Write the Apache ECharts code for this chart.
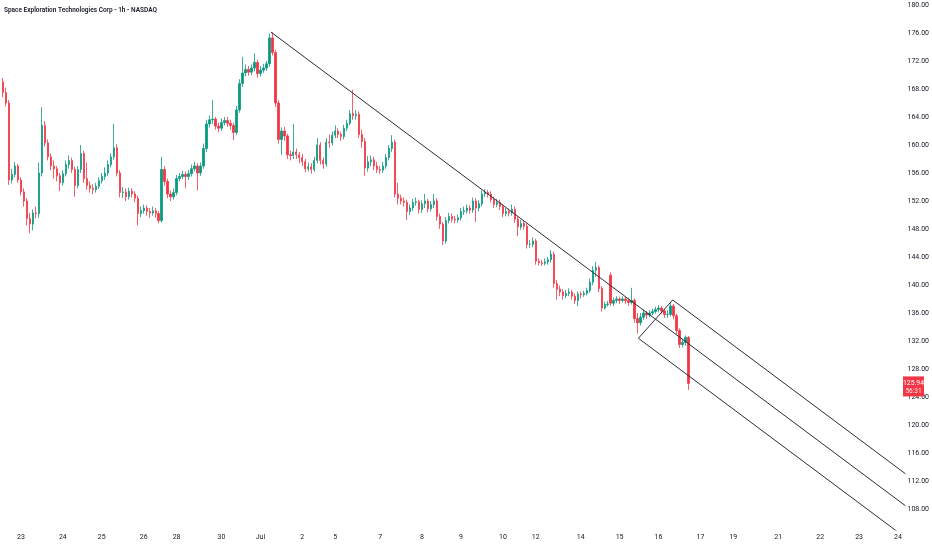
<!DOCTYPE html>
<html><head><meta charset="utf-8">
<script src="https://cdn.jsdelivr.net/npm/echarts@6/dist/echarts.min.js"></script>
<style>html,body{margin:0;padding:0;background:#fff}#c{width:932px;height:550px}</style>
</head><body><div id="c"></div>
<script>
const chartTitle = 'Space Exploration Technologies Corp - 1h - NASDAQ';
// [open, close, low, high] per 1h bar
const candles = [
[169,167.5,166.8,169.6],[167.5,166,165.5,168.2],[166,155,154.3,166.4],[155,155.8,154.5,156.6],[155.8,157,155.4,157.6],
[157,155,154.6,157.3],[155,153.3,152.8,155.4],[153.3,152,151.2,153.8],[152,149.5,148.5,152.4],[149.5,148.7,147.4,150.3],
[148.7,150.3,147.8,150.8],[150.3,150.2,149.5,151.2],[150.2,156,149.6,157.5],[156,162.8,155.5,165.4],[162.8,160.3,159.8,163.4],
[160.3,158.3,157.8,160.8],[158.3,157,156.4,158.8],[157,156.6,155.2,157.8],[156.6,155.6,154.8,157],[155.6,154.6,153.4,156],
[154.6,155.9,154.2,156.4],[155.9,157.2,155.5,157.8],[157.2,157.8,156.6,158.5],[157.8,156.5,156,158.2],[156.5,154.2,152.6,156.9],
[154.2,156.5,153.8,157],[156.5,158.8,156,160],[158.8,155.2,154.6,159.2],[155.2,154.2,153.6,157.5],[154.2,153.8,153.2,154.8],
[153.8,153.6,153,154.4],[153.6,154.1,153.2,154.6],[154.1,154.9,153.7,155.4],[154.9,155.5,154.5,156],[155.5,156,155,156.8],
[156,157.2,155.6,157.8],[157.2,158.3,156.8,158.8],[158.3,159.6,157.9,163],[159.6,156,155.5,160.1],[156,153.2,152.5,156.4],
[153.2,153.3,152.4,154],[153.3,152.6,152,153.8],[152.6,153.4,152.2,153.9],[153.4,153,152.5,153.8],[153,152.4,151.8,153.4],
[152.4,150.2,148.5,152.8],[150.2,150.6,149.7,151.2],[150.6,151,150.2,151.5],[151,150.5,149.9,151.4],[150.5,150.3,149.6,151],
[150.3,150.6,149.9,151.2],[150.6,150.2,149.6,151],[150.2,149.2,148.8,150.6],[149.2,156.5,148.9,158.3],[156.5,154.8,154.2,157],
[154.8,153,152.4,155.2],[153,152.6,152,153.5],[152.6,153.2,152.2,153.8],[153.2,155.2,152.8,155.7],[155.2,155.5,154.8,156],
[155.5,155.8,155.1,156.3],[155.8,155.5,153.8,156.2],[155.5,155.9,155,156.4],[155.9,156.6,155.5,157.2],[156.6,157,156.2,157.6],
[157,156,153.5,157.4],[156,157,155.6,157.5],[157,159.5,156.6,160.2],[159.5,163,159,163.6],[163,163.6,162.5,164.2],
[163.6,163.7,163,166.4],[163.7,162.7,162.2,164],[162.7,162.4,161.8,163.2],[162.4,163.2,162,163.8],[163.2,163.5,162.8,164],
[163.5,163.1,162.6,164],[163.1,162.8,162.2,163.6],[162.8,161.8,160.7,163.2],[161.8,165,161.4,165.6],[165,168.8,164.6,169.4],
[168.8,170.3,168.3,172.6],[170.3,170.8,169.8,171.5],[170.8,170.4,169.9,171.3],[170.4,171,170,171.5],[171,171.8,170.5,173.1],
[171.8,170.2,169.6,172.2],[170.2,170.7,169.8,171.3],[170.7,171,170.3,171.6],[171,171.6,170.6,172],[171.6,175.3,171.2,175.9],
[175.3,173.2,172.8,176.1],[173.2,166,165.4,173.6],[166,160.8,160.2,166.4],[160.8,162,158.6,162.5],[162,161.3,160.6,162.6],
[161.3,158.6,158,161.6],[158.6,158.5,157.8,159.2],[158.5,159,158,163],[159,158.6,158,159.5],[158.6,158.2,157.4,159],
[158.2,157.6,157,158.7],[157.6,156.6,156.1,158],[156.6,156.9,156.2,157.5],[156.9,156.5,155.9,157.4],[156.5,157.8,156.2,158.3],
[157.8,160,157.4,161],[160,157.8,157.2,160.4],[157.8,157.3,156.6,158.2],[157.3,160.4,156.9,161],[160.4,160.3,159.6,161.5],
[160.3,161.4,159.9,161.9],[161.4,162,161,162.8],[162,161.5,161,162.4],[161.5,161.2,160.6,161.9],[161.2,162.4,160.8,162.9],
[162.4,163.1,162,163.6],[163.1,164.5,162.8,165],[164.5,164.2,163.6,167.9],[164.2,164.4,163.6,165],[164.4,161.5,161,164.8],
[161.5,160.5,159.6,162.2],[160.5,156.7,155.6,161],[156.7,157.6,156.2,158.4],[157.6,157.9,157,158.5],[157.9,157,156.4,158.3],
[157,156.5,156,157.6],[156.5,156.4,155.9,157],[156.4,157,156,157.6],[157,158.2,156.6,158.7],[158.2,159.5,157.8,160],
[159.5,160.4,159,161.4],[160.4,153,152.5,160.8],[153,152.4,151.5,154.6],[152.4,152,151.5,152.9],[152,151.8,151.2,152.5],
[151.8,150.5,149.3,152.2],[150.5,151,150,151.5],[151,151.8,150.6,152.3],[151.8,151.9,151.3,152.5],[151.9,150.8,150.2,152.2],
[150.8,151.6,150.3,152.1],[151.6,152,151,153],[152,150.9,150.4,152.3],[150.9,151.5,150.5,152],[151.5,152,151,153],
[152,149.8,149.2,152.4],[149.8,148.7,148,150.2],[148.7,146.3,145.7,149],[146.3,149.2,145.9,149.7],[149.2,149.8,148.8,150.3],
[149.8,149.4,148.9,150.2],[149.4,149.3,148.8,149.9],[149.3,149.6,148.9,150.1],[149.6,150.5,149.2,151],[150.5,150.6,150,151.2],
[150.6,151,150.2,151.5],[151,150.7,150.2,151.4],[150.7,152,150.3,152.5],[152,151,149,152.4],[151,151.6,150.5,152.1],
[151.6,153,151.2,153.5],[153,153.2,152.6,153.7],[153.2,153,152.5,153.6],[153,152.2,151.8,153.4],[152.2,151.5,151,152.6],
[151.5,151.8,151.1,152.3],[151.8,151.2,150.7,152.2],[151.2,150.2,149.7,151.6],[150.2,150.5,149.8,151],[150.5,150.3,149.8,150.9],
[150.3,150.8,149.9,151.5],[150.8,149.4,148.9,151.2],[149.4,148.3,147,149.8],[148.3,148.8,147.9,149.3],[148.8,148.4,147.9,149.2],
[148.4,145.8,145.2,148.8],[145.8,145.8,145.3,146.4],[145.8,146.3,145.4,146.8],[146.3,143.4,142.9,146.6],[143.4,143.2,142.8,143.8],
[143.2,143.1,142.7,143.6],[143.1,143.3,142.8,143.8],[143.3,143.6,142.9,144],[143.6,144.4,143.2,145],[144.4,140.2,139.6,144.8],
[140.2,139.4,137.9,140.7],[139.4,139,138.4,139.9],[139,138.5,137.9,139.4],[138.5,138.8,138.1,139.3],[138.8,139,138.4,139.5],
[139,138.4,137.9,139.3],[138.4,137.8,137.3,138.8],[137.8,138.7,137,139.1],[138.7,138.6,138.1,139.1],[138.6,138.8,138.3,139.2],
[138.8,139.2,138.5,139.6],[139.2,140.4,138.9,140.9],[140.4,142.1,140,142.7],[142.1,142.5,141.2,143.3],[142.5,139.5,139,142.8],
[139.5,136.7,136.2,139.8],[136.7,137.2,136.5,137.6],[137.2,137.3,136.9,137.7],[141.4,137.4,137,141.8],[137.4,137.8,137,138.2],
[137.8,138,137.4,138.4],[138,137.8,137.3,138.3],[137.8,138,137.5,138.4],[138,137.8,137.3,138.3],[137.8,137.5,137,138.2],
[137.5,137.8,137.2,139.6],[137.8,135.2,134.6,138.1],[135.2,134.6,133.1,136],[134.6,135.4,134.2,136],[135.4,136,135,136.5],
[136,135.7,135.2,136.3],[135.7,136,135.4,136.4],[136,136.2,135.7,136.6],[136.2,136.5,135.9,136.9],[136.5,136.7,136.1,137.1],
[136.7,136.3,135.9,137],[136.3,135.8,135.3,136.6],[135.8,135.8,135.3,136.4],[135.8,137,135.5,137.5],[137,135.6,135.1,137.3],
[135.6,133.5,133,135.9],[133.5,131.5,131,133.8],[131.5,131.8,131.1,132.3],[131.8,132.5,131.3,132.8],[132.5,125.94,125,132.7]
];
const dayLabels = ['23','24','25','26','28','30','Jul','2','5','7','8','9','10','12','14','15','16','17','19','21','22','23','24'];
const dayLabelSlot = [6,20,33,47,58,73,86,100,111,126,140,153,167,178,193,206,219,233,244,259,273,286,299];
const priceTicks = [108,112,116,120,124,128,132,136,140,144,148,152,156,160,164,168,172,176,180];
const lastPrice = 125.94;
const countdown = '56:31';
// drawing anchors in [bar slot, price]
const trendLine = [[89.5,176.14],[301.5,108.46]];
const channelUpper = [[223.73,137.86],[301.5,113.03]];
const channelLower = [[212.27,132.39],[301.5,103.9]];
const channelEdge = [[212.27,132.39],[223.73,137.86]];
const slotCount = 302;

const cats = [];
for (let i = 0; i < slotCount; i++) {
  const k = dayLabelSlot.indexOf(i);
  cats.push(k >= 0 ? dayLabels[k] : '');
}
const txt = '#131722';
const fnt = 'Roboto, "Noto Sans", sans-serif';
const lineSeries = (d) => ({
  type: 'line', xAxisIndex: 1, yAxisIndex: 0, data: d, symbol: 'none', silent: true,
  lineStyle: { color: '#2a2e39', width: 1 }, z: 5
});
const chart = echarts.init(document.getElementById('c'), null, { renderer: 'canvas' });
chart.setOption({
  animation: false,
  backgroundColor: '#ffffff',
  grid: { left: 0, right: 26, top: 0, bottom: 20, containLabel: false },
  xAxis: [
    { type: 'category', data: cats, boundaryGap: true,
      axisLine: { show: false }, axisTick: { show: false }, splitLine: { show: false },
      axisLabel: { interval: 0, margin: 4, fontSize: 7, color: txt, fontFamily: fnt } },
    { type: 'value', min: -0.5, max: slotCount - 0.5, show: false }
  ],
  yAxis: {
    type: 'value', position: 'right', min: 105, max: 180.714, scale: true,
    axisLine: { show: false }, axisTick: { show: false }, splitLine: { show: false },
    axisLabel: { customValues: priceTicks, margin: 2, fontSize: 7, color: txt, fontFamily: fnt,
      formatter: (v) => Number(v).toFixed(2) }
  },
  series: [
    { type: 'candlestick', xAxisIndex: 0, yAxisIndex: 0, data: candles, barWidth: 1.8,
      itemStyle: { color: '#089981', color0: '#F23645', borderColor: '#089981', borderColor0: '#F23645', borderWidth: 0.8 } },
    lineSeries(trendLine), lineSeries(channelUpper), lineSeries(channelLower), lineSeries(channelEdge)
  ]
});
const py = chart.convertToPixel({ yAxisIndex: 0 }, lastPrice);
chart.setOption({
  graphic: [
    { type: 'text', x: 4, y: 10, scaleX: 0.865, originX: 0, originY: 0,
      style: { text: chartTitle, fill: txt, fontSize: 7.5, fontWeight: 600, fontFamily: fnt, verticalAlign: 'middle' }, z: 100 },
    { type: 'rect', shape: { x: 903, y: py - 7, width: 21, height: 20 }, style: { fill: '#F23645' }, z: 100 },
    { type: 'text', x: 913.5, y: py, style: { text: lastPrice.toFixed(2), fill: '#ffffff', fontSize: 6.8, fontFamily: fnt, align: 'center', verticalAlign: 'middle' }, z: 101 },
    { type: 'text', x: 913.5, y: py + 8, style: { text: countdown, fill: 'rgba(255,255,255,0.85)', fontSize: 6.5, fontFamily: fnt, align: 'center', verticalAlign: 'middle' }, z: 101 }
  ]
});
</script></body></html>
